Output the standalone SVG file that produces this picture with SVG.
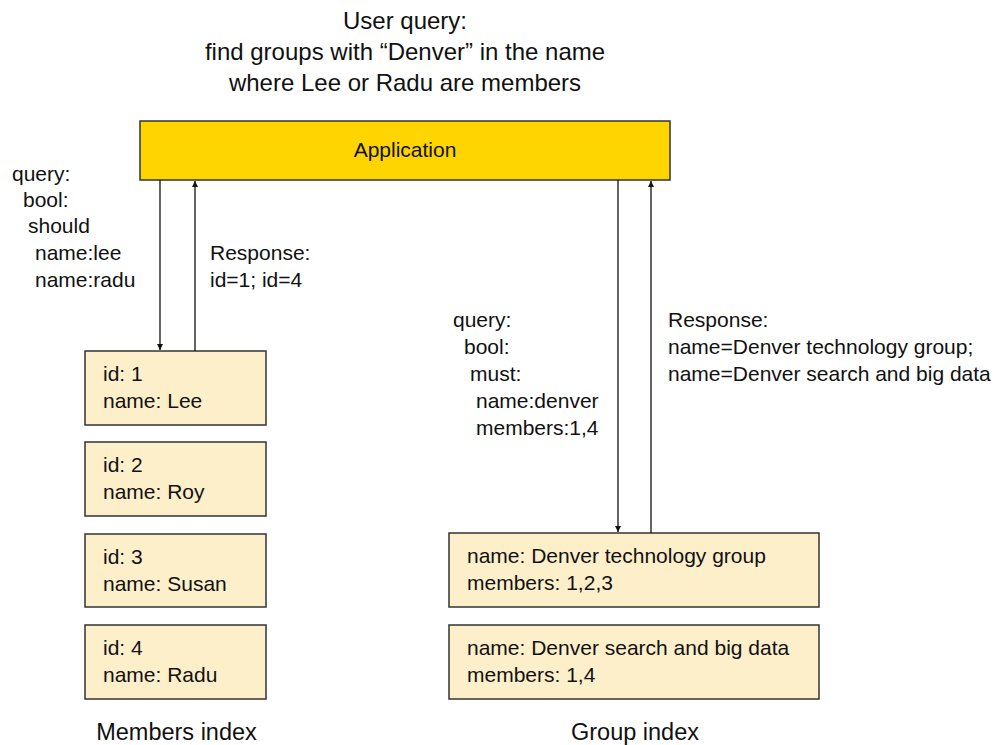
<svg xmlns="http://www.w3.org/2000/svg" width="1003" height="745" viewBox="0 0 1003 745">
<style>
text{font-family:"Liberation Sans",Arial,sans-serif;font-size:21px;fill:#111}
.title{font-size:24px}
.idx{font-size:23.5px}
.mid{text-anchor:middle}
.box{fill:#FEEFCB;stroke:#333;stroke-width:1.5}
.app{fill:#FFD500;stroke:#333;stroke-width:1.5}
.conn{stroke:#111;stroke-width:1.3;fill:none;marker-end:url(#ah)}
</style>
<defs>
<marker id="ah" viewBox="0 0 10 10" refX="10" refY="5" markerWidth="6" markerHeight="9" markerUnits="userSpaceOnUse" orient="auto">
<path d="M0,0 L10,5 L0,10 z" fill="#111"/>
</marker>
</defs>
<rect width="1003" height="745" fill="#fff"/>
<g id="title">
<text class="title mid" x="405" y="29">User query:</text>
<text class="title mid" x="405" y="60">find groups with “Denver” in the name</text>
<text class="title mid" x="405" y="91">where Lee or Radu are members</text>
</g>
<g id="application">
<rect class="app" x="140" y="121" width="530" height="59"/>
<text class="mid" x="405" y="157">Application</text>
</g>
<g id="member1">
<rect class="box" x="85" y="351" width="181" height="74"/>
<text x="103" y="381">id: 1</text><text x="103" y="408">name: Lee</text>
</g>
<g id="member2">
<rect class="box" x="85" y="442" width="181" height="74"/>
<text x="103" y="472">id: 2</text><text x="103" y="499">name: Roy</text>
</g>
<g id="member3">
<rect class="box" x="85" y="534" width="181" height="73"/>
<text x="103" y="564">id: 3</text><text x="103" y="591">name: Susan</text>
</g>
<g id="member4">
<rect class="box" x="85" y="625" width="181" height="74"/>
<text x="103" y="655">id: 4</text><text x="103" y="682">name: Radu</text>
</g>
<g id="group1">
<rect class="box" x="449" y="533" width="370" height="74"/>
<text x="467" y="563">name: Denver technology group</text><text x="467" y="590">members: 1,2,3</text>
</g>
<g id="group2">
<rect class="box" x="449" y="625" width="370" height="74"/>
<text x="467" y="655">name: Denver search and big data</text><text x="467" y="682">members: 1,4</text>
</g>
<g id="labels">
<text class="idx mid" x="176.5" y="740">Members index</text>
<text class="idx mid" x="635" y="740">Group index</text>
<text x="12" y="181">query:</text>
<text x="23" y="207">bool:</text>
<text x="28" y="233">should</text>
<text x="35" y="260">name:lee</text>
<text x="35" y="287">name:radu</text>
<text x="210" y="260">Response:</text>
<text x="210" y="287">id=1; id=4</text>
<text x="453" y="327">query:</text>
<text x="464" y="354">bool:</text>
<text x="470" y="381">must:</text>
<text x="476" y="408">name:denver</text>
<text x="476" y="435">members:1,4</text>
<text x="668" y="327">Response:</text>
<text x="668" y="354">name=Denver technology group;</text>
<text x="668" y="381">name=Denver search and big data</text>
</g>
<g id="connectors">
<line class="conn" x1="160" y1="180" x2="160" y2="350"/>
<line class="conn" x1="195" y1="351" x2="195" y2="181"/>
<line class="conn" x1="618" y1="180" x2="618" y2="532"/>
<line class="conn" x1="651" y1="533" x2="651" y2="181"/>
</g>
</svg>
